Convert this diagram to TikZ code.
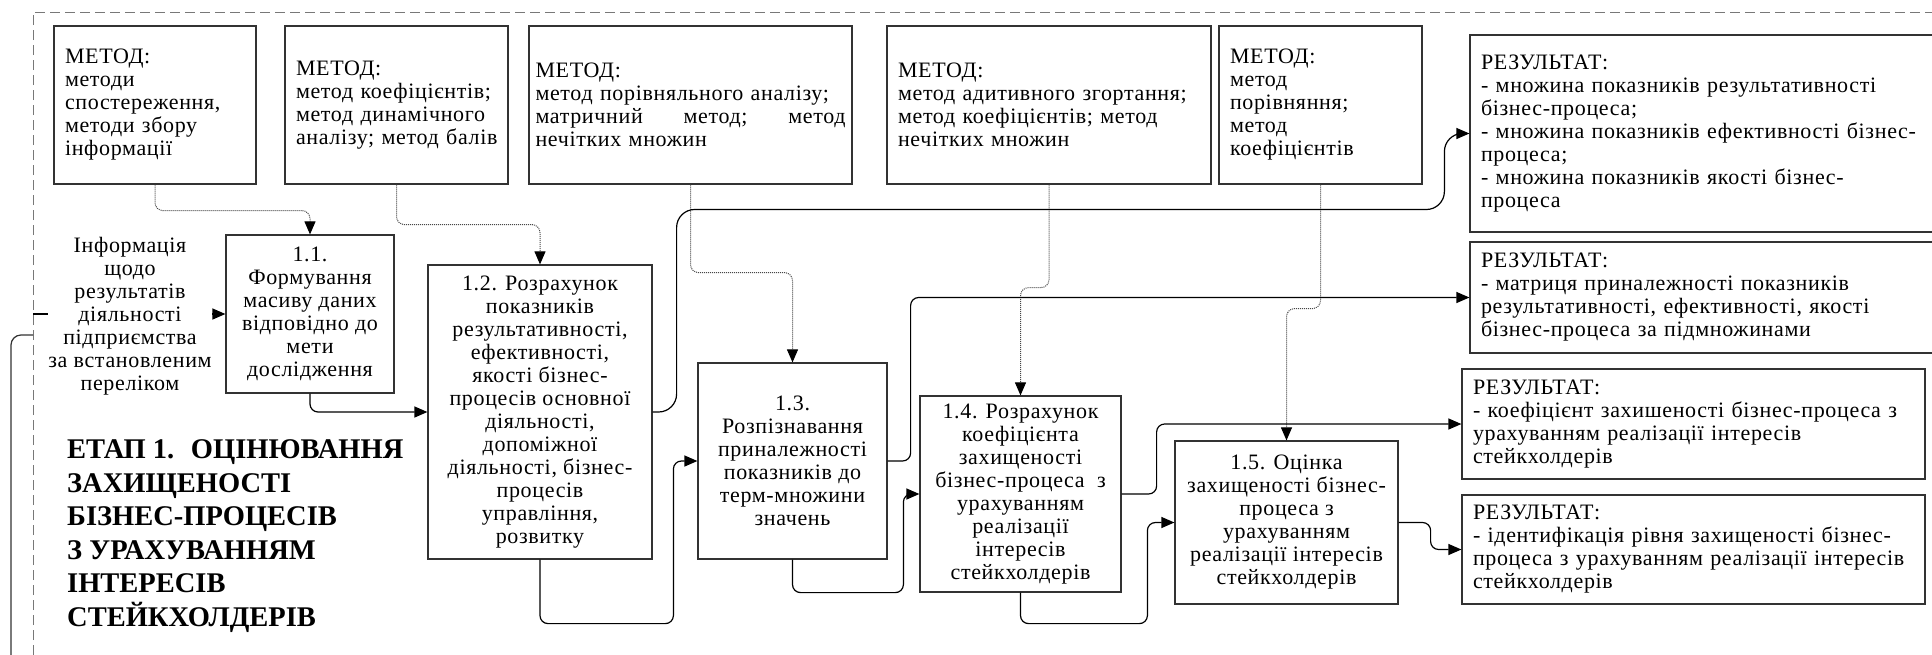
\documentclass[tikz,border=0pt]{standalone}
\usepackage{fontspec}
\setmainfont{Liberation Serif}
\newfontfamily\etapfont[LetterSpace=3]{Liberation Serif}
\usetikzlibrary{arrows.meta,calc}
\definecolor{etapcolor0001}{RGB}{255,255,255}
\definecolor{etapcolor0002}{RGB}{50,50,50}
\definecolor{etapcolor0003}{RGB}{120,120,120}
\definecolor{etapcolor0004}{RGB}{0,0,0}
\definecolor{etapcolor0005}{RGB}{70,70,70}

\begin{document}
\begin{tikzpicture}[yscale=-1
,estyle0/.style={color=etapcolor0003,line width=1pt,dash pattern=on 10pt off 5pt}
,estyle1/.style={draw=etapcolor0002,fill=etapcolor0001,line width=1.2pt,inner xsep=11pt,inner ysep=0pt,text width=#1,align=left,font=\etapfont\fontsize{22pt}{23pt}\selectfont}
,estyle2/.style={draw=etapcolor0002,fill=etapcolor0001,line width=1.2pt,inner sep=2pt,align=center,font=\etapfont\fontsize{22pt}{23pt}\selectfont}
,estyle3/.style={color=etapcolor0004,line width=1.2pt,rounded corners=8pt,-{Triangle[length=13pt,width=11pt]}}
,estyle4/.style={color=etapcolor0005,line width=1pt,dash pattern=on 1pt off 1pt,rounded corners=8pt,-{Triangle[length=13pt,width=11pt,color=etapcolor0004]}}
,estyle5/.style={color=etapcolor0002,line width=1.2pt,rounded corners=10pt}
]
\useasboundingbox (0pt,0pt) rectangle (1932pt,654pt);
\draw[estyle0] (33pt,670pt) -- (33pt,12pt) -- (1950pt,12pt);
\node[estyle1=180pt,minimum height=158pt] (m1) at (155pt,105pt) {МЕТОД:\\методи\\спостереження,\\методи збору\\інформації};
\node[estyle1=201pt,minimum height=158pt] (m2) at (396.5pt,105pt) {МЕТОД:\\метод~коефіцієнтів;\\метод~динамічного\\аналізу;~метод~балів};
\node[estyle1=310pt,inner xsep=6.5pt,minimum height=158pt] (m3) at (690.5pt,105pt) {МЕТОД:\\метод~порівняльного~аналізу;\\матричний\hfill метод;\hfill метод\\нечітких множин};
\node[estyle1=302pt,minimum height=158pt] (m4) at (1049pt,105pt) {МЕТОД:\\метод~адитивного~згортання;\\метод коефіцієнтів; метод\\нечітких множин};
\node[estyle1=181pt,minimum height=158pt] (m5) at (1320.5pt,105pt) {МЕТОД:\\метод\\порівняння;\\метод\\коефіцієнтів};
\node[estyle1=453pt,minimum height=197pt] (r1) at (1707.5pt,133.5pt) {РЕЗУЛЬТАТ:\\- множина показників результативності\\бізнес-процеса;\\- множина~показників~ефективності~бізнес-\\процеса;\\- множина показників якості бізнес-\\процеса};
\node[estyle1=453pt,minimum height=111pt] (r2) at (1707.5pt,297.5pt) {РЕЗУЛЬТАТ:\\- матриця приналежності показників\\результативності, ефективності, якості\\бізнес-процеса за підмножинами};
\node[estyle1=441pt,minimum height=110pt] (r3) at (1693.5pt,424pt) {РЕЗУЛЬТАТ:\\- коефіцієнт~захишеності~бізнес-процеса~з\\урахуванням реалізації інтересів\\стейкхолдерів};
\node[estyle1=441pt,minimum height=109pt] (r4) at (1693.5pt,549.5pt) {РЕЗУЛЬТАТ:\\- ідентифікація~рівня~захищеності~бізнес-\\процеса~з~урахуванням~реалізації~інтересів\\стейкхолдерів};
\node[estyle2,minimum width=168pt,minimum height=158pt] (p11) at (310pt,314pt) {1.1.\\Формування\\масиву даних\\відповідно до\\мети\\дослідження};
\node[estyle2,minimum width=224pt,minimum height=294pt] (p12) at (540pt,412pt) {1.2. Розрахунок\\показників\\результативності,\\ефективності,\\якості бізнес-\\процесів основної\\діяльності,\\допоміжної\\діяльності, бізнес-\\процесів\\управління,\\розвитку};
\node[estyle2,minimum width=189pt,minimum height=196pt] (p13) at (792.5pt,461pt) {1.3.\\Розпізнавання\\приналежності\\показників до\\терм-множини\\значень};
\node[estyle2,minimum width=201pt,minimum height=196pt] (p14) at (1020.5pt,494pt) {1.4. Розрахунок\\коефіцієнта\\захищеності\\бізнес-процеса~ з\\урахуванням\\реалізації\\інтересів\\стейкхолдерів};
\node[estyle2,minimum width=223pt,minimum height=163pt] (p15) at (1286.5pt,522.5pt) {1.5. Оцінка\\захищеності бізнес-\\процеса з\\урахуванням\\реалізації інтересів\\стейкхолдерів};
\coordinate (infoin) at (33pt,314pt);
\coordinate (loopin) at (33pt,335pt);
\draw[estyle4] (m1.south) -- ++(0pt,26pt) -| (p11.north);
\draw[estyle4] (m2.south) -- ++(0pt,40pt) -| (p12.north);
\draw[estyle4] (m3.south) -- ++(0pt,88pt) -| (p13.north);
\draw[estyle4] (m4.south) -- ++(0pt,103pt) -| (p14.north);
\draw[estyle4] (m5.south) -- ++(0pt,124pt) -| (p15.north);
\draw[estyle3] (infoin) -- (p11.west);
\draw[estyle3] (p11.south) |- (p12.west);
\draw[estyle3] (p12.south) -- ++(0pt,64pt) -| ($(p13.west)+(-24pt,0pt)$) -- (p13.west);
\draw[estyle3] (p13.south) -- ++(0pt,33pt) -| ($(p14.west)+(-16pt,0pt)$) -- (p14.west);
\draw[estyle3] (p14.south) -- ++(0pt,31pt) -| ($(p15.west)+(-27pt,0pt)$) -- (p15.west);
\draw[estyle3,rounded corners=18pt] (p12.east) -- ++(24pt,0pt) |- ($(r1.west)+(-25pt,76pt)$) |- (r1.west);
\draw[estyle3] (p13.east) -- ++(23pt,0pt) |- (r2.west);
\draw[estyle3] (p14.east) -- ++(35pt,0pt) |- (r3.west);
\draw[estyle3] (p15.east) -- ++(32pt,0pt) |- (r4.west);
\draw[estyle5] (11pt,670pt) |- (loopin);
\node[fill=etapcolor0001,inner sep=0pt,align=center,font=\etapfont\fontsize{22pt}{23pt}\selectfont] (info) at (130pt,316pt) {Інформація\\щодо\\результатів\\діяльності\\підприємства\\за встановленим\\переліком};
\node[anchor=west,inner sep=0pt,align=left,font=\fontsize{28.5pt}{33.5pt}\selectfont\bfseries] (etap) at (67pt,536pt) {ЕТАП 1.~ ОЦІНЮВАННЯ\\ЗАХИЩЕНОСТІ\\БІЗНЕС-ПРОЦЕСІВ\\З УРАХУВАННЯМ\\ІНТЕРЕСІВ\\СТЕЙКХОЛДЕРІВ};
\end{tikzpicture}
\end{document}
